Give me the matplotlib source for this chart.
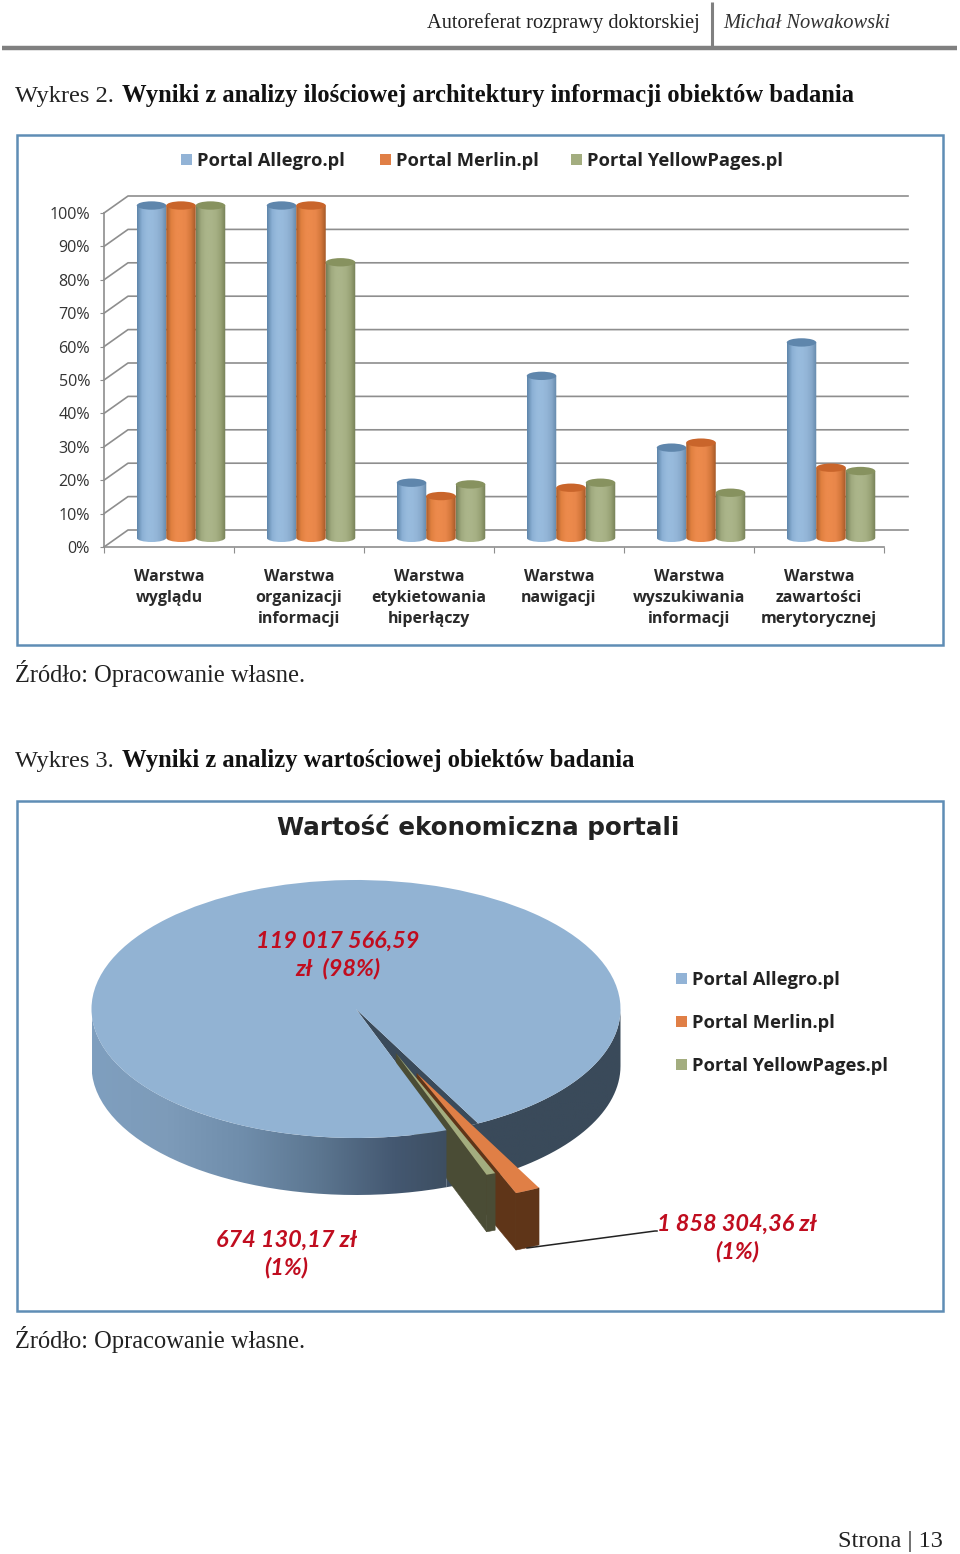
import matplotlib
matplotlib.use("Agg")
import matplotlib.pyplot as plt
import numpy as np
from matplotlib.colors import LinearSegmentedColormap
from matplotlib.patches import Ellipse, PathPatch, Polygon, Rectangle, Wedge
from matplotlib.path import Path

W, H = 960, 1554

portals = ["Portal Allegro.pl", "Portal Merlin.pl", "Portal YellowPages.pl"]
layers = [
    "Warstwa\nwyglądu",
    "Warstwa\norganizacji\ninformacji",
    "Warstwa\netykietowania\nhiperłączy",
    "Warstwa\nnawigacji",
    "Warstwa\nwyszukiwania\ninformacji",
    "Warstwa\nzawartości\nmerytorycznej",
]
allegro = [100, 100, 17, 49, 27.5, 59]
merlin = [100, 100, 13, 15.5, 29, 21.5]
yellow = [100, 83, 16.5, 17, 14, 20.5]
percent_ticks = [0, 10, 20, 30, 40, 50, 60, 70, 80, 90, 100]

pie_values = [119017566.59, 1858304.36, 674130.17]

legend_colors = ["#92b3d6", "#e07f46", "#a3ad7f"]
bar_ramps = [
    ["#5f86ab", "#8bb0d4", "#98bbdd", "#98bbdd", "#93b5d7", "#86a8ca", "#6488aa"],
    ["#a85c2b", "#e0803f", "#ec8a4c", "#ec8a4c", "#e8864a", "#d5783c", "#a65a28"],
    ["#757f58", "#9fa97e", "#abb58a", "#abb58a", "#a6b084", "#98a275", "#757f55"],
]
bar_caps = ["#5f86ac", "#c9652b", "#87925f"]
red = "#c00d1f"
frame = "#5f8db5"
sans = "Open Sans"
serif = "Liberation Serif"


def px_axes(left, top, right, bottom, **kw):
    return fig.add_axes(
        [left / W, 1 - bottom / H, (right - left) / W, (bottom - top) / H], **kw
    )


fig = plt.figure(figsize=(W / 100, H / 100), dpi=100, facecolor="white")

# page furniture, in pixels
page = px_axes(0, 0, W, H)
page.set_xlim(0, W)
page.set_ylim(H, 0)
page.axis("off")

page.plot([2, 957], [47.5, 47.5], color="#808080", lw=3.2, solid_capstyle="butt")
page.plot([712, 712], [2, 47], color="#808080", lw=2.2, solid_capstyle="butt")
page.text(700, 28, "Autoreferat rozprawy doktorskiej", ha="right", va="baseline",
          family=serif, fontsize=14.7, color="#222222")
page.text(723, 28, "Michał Nowakowski", ha="left", va="baseline",
          family=serif, style="italic", fontsize=14.8, color="#333333")

page.text(15, 102, "Wykres 2.", ha="left", va="baseline", family=serif, fontsize=17.6, color="#222222")
page.text(122, 102, "Wyniki z analizy ilościowej architektury informacji obiektów badania",
          ha="left", va="baseline", family=serif, weight="bold", fontsize=17.7, color="#111111")
page.text(15, 682, "Źródło: Opracowanie własne.", ha="left", va="baseline",
          family=serif, fontsize=17.65, color="#222222")
page.text(15, 767, "Wykres 3.", ha="left", va="baseline", family=serif, fontsize=17.6, color="#222222")
page.text(122, 767, "Wyniki z analizy wartościowej obiektów badania",
          ha="left", va="baseline", family=serif, weight="bold", fontsize=17.7, color="#111111")
page.text(15, 1348, "Źródło: Opracowanie własne.", ha="left", va="baseline",
          family=serif, fontsize=17.65, color="#222222")
page.text(943, 1547, "Strona | 13", ha="right", va="baseline", family=serif, fontsize=17.5, color="#222222")

for top, bottom in [(135, 645), (801, 1311)]:
    page.add_patch(Rectangle((17, top), 926, bottom - top, fill=False, ec=frame, lw=1.8))

for x, tx, name, col in zip([181, 380, 571], [197, 396, 587], portals, legend_colors):
    page.add_patch(Rectangle((x, 154), 11, 11, fc=col, ec="none"))
    page.text(tx, 161, name, ha="left", va="center", family=sans, weight="bold",
              fontsize=13.2, color="#222222")

# bar chart
bars = px_axes(104, 213, 884, 547)
bars.patch.set_alpha(0)
n = len(layers)
dx = 24 / 130
dy = 17 / 3.34
bw = 29.5 / 130
bars.set_xlim(0, n)
bars.set_ylim(0, 100)

for v in percent_ticks:
    bars.plot([0, dx, n + dx], [v, v + dy, v + dy], color="#8e8e8e", lw=1.2,
              clip_on=False, zorder=1)
bars.spines[["top", "right"]].set_visible(False)
for side in ["left", "bottom"]:
    bars.spines[side].set_color("#8e8e8e")
    bars.spines[side].set_linewidth(1.2)
bars.set_yticks(percent_ticks)
bars.set_yticklabels([f"{v}%" for v in percent_ticks], family=sans, fontsize=11.6, color="#333333")
bars.set_xticks(range(n + 1))
bars.set_xticklabels([])
bars.tick_params(axis="x", length=4, color="#8e8e8e")
bars.tick_params(axis="y", length=3, color="#8e8e8e", pad=7)
for i, label in enumerate(layers):
    bars.text(i + 0.5, -6.7, label, ha="center", va="top", family=sans, weight="bold",
              fontsize=11.5, color="#2a2a2a", linespacing=1.42, clip_on=False)

cap = 1.25
for s, series in enumerate([allegro, merlin, yellow]):
    cmap = LinearSegmentedColormap.from_list(f"bar{s}", bar_ramps[s])
    for i, val in enumerate(series):
        cx = i + 0.5 + dx / 2 + (s - 1) * bw
        x0, x1 = cx - bw / 2, cx + bw / 2
        base, top = dy / 2 + 0.2, val + dy / 2 - 0.3
        k = 0.5523
        verts = [
            (x0, top), (x1, top),
            (x1, base), (x1, base - k * cap), (cx + k * bw / 2, base - cap), (cx, base - cap),
            (cx - k * bw / 2, base - cap), (x0, base - k * cap), (x0, base),
            (x0, top),
        ]
        codes = [Path.MOVETO, Path.LINETO, Path.LINETO, Path.CURVE4, Path.CURVE4, Path.CURVE4,
                 Path.CURVE4, Path.CURVE4, Path.CURVE4, Path.CLOSEPOLY]
        outline = PathPatch(Path(verts, codes), fc="none", ec="none", transform=bars.transData)
        bars.add_patch(outline)
        img = bars.imshow(np.linspace(0, 1, 64)[None, :], extent=(x0, x1, base - cap, top),
                          cmap=cmap, aspect="auto", zorder=3 + s * 0.1)
        img.set_clip_box(fig.bbox)
        img.set_clip_path(outline)
        bars.add_patch(Ellipse((cx, top), bw, 2 * cap, fc=bar_caps[s], ec="none",
                               zorder=3.05 + s * 0.1, clip_on=False))
bars.set_xlim(0, n)
bars.set_ylim(0, 100)

# pie chart, unit circle is squashed by the axes limits
rx, ry, pcx, pcy = 264.5, 129, 356, 1009
xspan, ylo, yhi = 1.2, -2.2, 1.2
pie = px_axes(pcx - xspan * rx, pcy - yhi * ry, pcx + xspan * rx, pcy - ylo * ry)
pie.patch.set_alpha(0)
pie.set_xlim(-xspan, xspan)
pie.set_ylim(ylo, yhi)
pie.axis("off")

depth = 57 / ry
total = sum(pie_values)
blue_start = -62.5
blue_sweep = pie_values[0] / total * 360
orange_sweep = pie_values[1] / total * 360
green_sweep = pie_values[2] / total * 360
green_a = blue_start + blue_sweep - 360
green_b = green_a + green_sweep
orange_b = green_b + orange_sweep


def arc(a0, a1, center=(0.0, 0.0)):
    t = np.radians(np.linspace(a0, a1, 40))
    return np.c_[center[0] + np.cos(t), center[1] + np.sin(t)]


wall_cmap = LinearSegmentedColormap.from_list(
    "wall", ["#7f9fbf", "#7d9bb9", "#6f8dab", "#5c7690", "#445871", "#3a4a5a", "#3a4a5a", "#3a4a5a"]
)


def outer_wall(a0, a1, z):
    rim = arc(a0, a1)
    patch = Polygon(np.r_[rim, (rim - [0, depth])[::-1]], closed=True, fc="none", ec="none")
    pie.add_patch(patch)
    img = pie.imshow(np.linspace(0, 1, 256)[None, :], extent=(-1, 1, -1 - depth, 0),
                     cmap=wall_cmap, aspect="auto", zorder=z)
    img.set_clip_path(patch)


# left part of the wall stands in front of the pulled out slices
outer_wall(180, green_a + 360, 2.6)
outer_wall(green_a + 360, 360, 2.2)
pie.set_xlim(-xspan, xspan)
pie.set_ylim(ylo, yhi)

pie.add_patch(Wedge((0, 0), 1, blue_start, blue_start + blue_sweep, fc="#92b3d3", ec="none", zorder=3))
# the cut of the big slice, seen through the gap
gap = np.r_[[[0, 0]], arc(green_a, blue_start)]
pie.add_patch(Polygon(gap, closed=True, fc="#3a4a5a", ec="none", zorder=2.3))


def exploded_slice(a0, a1, explode, top_col, wall_col, z_wall, z_top, xoff=0.0):
    mid = np.radians((a0 + a1) / 2)
    c = (explode * np.cos(mid) + xoff, explode * np.sin(mid))
    rim = arc(a0, a1, c)
    side = np.array([c, rim[0], rim[0] - [0, depth], (c[0], c[1] - depth)])
    pie.add_patch(Polygon(side, closed=True, fc=wall_col, ec=wall_col, lw=0.4, zorder=z_wall, clip_on=False))
    front = np.r_[rim, (rim - [0, depth])[::-1]]
    pie.add_patch(Polygon(front, closed=True, fc=wall_col, ec=wall_col, lw=0.4, zorder=z_wall, clip_on=False))
    pie.add_patch(Wedge(c, 1, a0, a1, fc=top_col, ec="none", zorder=z_top, clip_on=False))


exploded_slice(green_b, orange_b, 0.55, "#e07f46", "#5f3518", 2.4, 4)
exploded_slice(green_a, green_b, 0.37, "#a3ad7f", "#4a4c35", 2.5, 5, xoff=0.019)

page.set_zorder(5)
page.patch.set_alpha(0)

page.plot([527, 655, 657], [1248, 1231, 1231], color="#222222", lw=1.1, zorder=6)
page.text(478, 827, "Wartość ekonomiczna portali", ha="center", va="center",
          family="DejaVu Sans", weight="bold", fontsize=17.7, color="#222222")
for y, name, col in zip([979, 1022, 1065], portals, legend_colors):
    page.add_patch(Rectangle((676, y - 6), 11, 11, fc=col, ec="none"))
    page.text(692, y + 1, name, ha="left", va="center", family=sans, weight="bold",
              fontsize=13.2, color="#222222")

labels = [
    (338, 955, "119 017 566,59\nzł  (98%)"),
    (286, 1254, "674 130,17 zł\n(1%)"),
    (737, 1238, "1 858 304,36 zł\n(1%)"),
]
for x, y, txt in labels:
    page.text(x, y, txt, ha="center", va="center", family="Lato", weight="bold", style="italic",
              fontsize=16.9, color=red, linespacing=1.33)

fig.savefig("out.png", dpi=100)
